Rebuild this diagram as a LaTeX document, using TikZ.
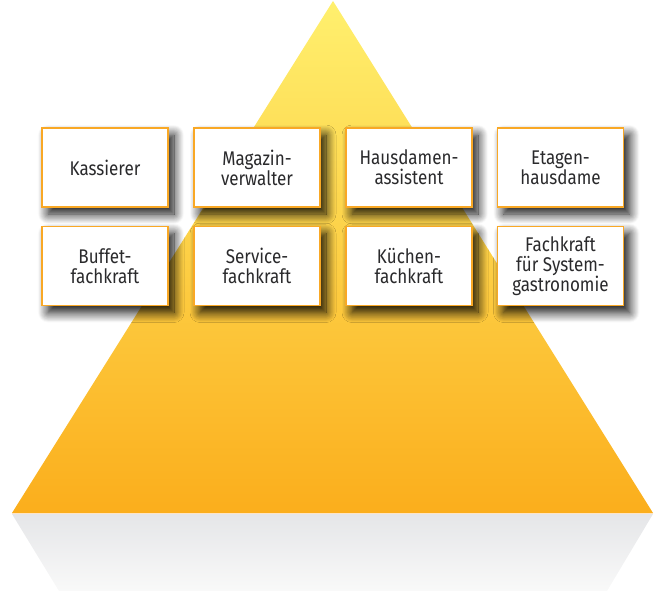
\documentclass[tikz,border=0pt]{standalone}
\usepackage{fontspec}
\setmainfont{Fira Sans}[FakeStretch=0.86]
\usetikzlibrary{shadows.blur}
\definecolor{boxline}{HTML}{F9A825}
\definecolor{txt}{HTML}{2A2A2C}
\definecolor{triTop}{HTML}{FFF06E}
\definecolor{triBot}{HTML}{FBAE1C}
\definecolor{greyTop}{HTML}{E5E6E8}
\definecolor{greyBot}{HTML}{F9F9F9}
\tikzset{
  jobbox/.style={draw=boxline, line width=1.2bp, fill=white, minimum width=126bp, minimum height=79bp,
    inner sep=2bp, align=center, text=txt, font=\fontsize{19.8bp}{20bp}\selectfont,
    blur shadow={shadow xshift=6bp, shadow yshift=-7bp, shadow blur radius=10bp, shadow blur steps=12, shadow opacity=95}},
}
\begin{document}
\begin{tikzpicture}[x=1bp,y=-1bp]
\useasboundingbox (0,0) rectangle (657,591);
% reflection
\shade[top color=greyTop, bottom color=greyBot] (12,514) -- (653,514) -- (607,591) -- (59,591) -- cycle;
% pyramid
\shade[top color=triTop, bottom color=triBot] (333,1) -- (653,513) -- (12,513) -- cycle;
\draw[white!70!orange, line width=0.6bp, opacity=0.6] (12,513.5) -- (653,513.5);
% boxes
\node[jobbox] (kas) at (105,167.5) {Kassierer};
\node[jobbox] (mag) at (257,167.5) {Magazin-\\verwalter};
\node[jobbox] (hda) at (409,167.5) {Hausdamen-\\assistent};
\node[jobbox] (eta) at (560.5,167.5) {Etagen-\\hausdame};
\node[jobbox] (buf) at (105,266) {Buffet-\\fachkraft};
\node[jobbox] (ser) at (257,266) {Service-\\fachkraft};
\node[jobbox] (kue) at (409,266) {Küchen-\\fachkraft};
\node[jobbox] (fsg) at (560.5,266) {Fachkraft\\für System-\\gastronomie};
\end{tikzpicture}
\end{document}
